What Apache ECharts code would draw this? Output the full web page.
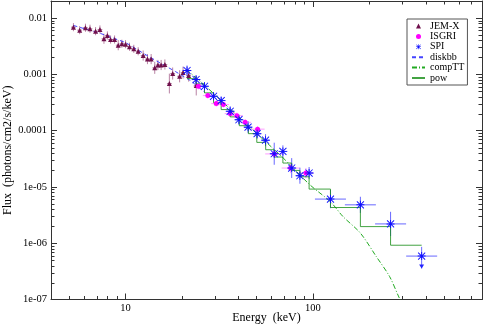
<!DOCTYPE html>
<html>
<head>
<meta charset="utf-8">
<script src="https://cdn.jsdelivr.net/npm/echarts@6/dist/echarts.min.js"></script>
<style>
  html, body { margin: 0; padding: 0; background: #fff; }
  #chart { width: 485px; height: 327px; }
</style>
</head>
<body>
<div id="chart"></div>
<script>
// JEM-X 数据点 (keV, photons/cm2/s/keV)，误差为乘法因子
const jemxE = [5.27, 5.69, 6.11, 6.46, 6.92, 7.30, 7.67, 8.00, 8.32, 8.74, 9.14, 9.56, 10.0, 10.5, 11.07, 11.68, 12.42, 13.09, 13.70, 14.32, 14.89, 15.49, 16.22, 17.14, 17.85, 19.44, 20.28, 21.72, 23.85];
const jemxF = [0.00686, 0.00607, 0.00670, 0.00643, 0.00582, 0.00624, 0.00427, 0.00489, 0.00414, 0.00414, 0.00328, 0.00348, 0.00342, 0.00308, 0.00283, 0.00256, 0.00215, 0.00186, 0.00186, 0.00130, 0.00146, 0.00146, 0.00149, 0.000684, 0.00103, 0.000920, 0.00107, 0.000948, 0.000630];
const jemxErr = [1.18, 1.18, 1.18, 1.18, 1.18, 1.18, 1.23, 1.18, 1.18, 1.18, 1.23, 1.18, 1.18, 1.18, 1.18, 1.18, 1.23, 1.23, 1.23, 1.28, 1.23, 1.23, 1.23, 1.5, 1.28, 1.28, 1.28, 1.28, 1.5];
const jemxBin = 1.03;

// ISGRI
const isgriE = [24.5, 27.5, 30.5, 33.3, 36.2, 39.3, 43.5, 50.7, 62.2, 76.1, 91.8];
const isgriF = [6.11e-4, 4.18e-4, 3.01e-4, 2.89e-4, 2.00e-4, 1.84e-4, 1.40e-4, 1.06e-4, 3.85e-5, 2.16e-5, 1.76e-5];
const isgriBin = [1.063, 1.063, 1.063, 1.07, 1.07, 1.076, 1.076, 1.09, 1.117, 1.117, 1.10];
const isgriErr = [1.13, 1.13, 1.13, 1.13, 1.13, 1.13, 1.13, 1.13, 1.18, 1.23, 1.23];

// SPI
const spiE = [21.3, 23.8, 26.4, 29.5, 32.4, 36.2, 40.3, 45.1, 50.4, 55.9, 62.2, 69.2, 77.1, 85.3, 95.5, 124.2, 179.4, 260];
const spiF = [1.164e-3, 8.05e-4, 6.11e-4, 4.06e-4, 3.40e-4, 2.20e-4, 1.56e-4, 1.15e-4, 8.81e-5, 6.75e-5, 3.88e-5, 4.27e-5, 2.16e-5, 1.58e-5, 1.76e-5, 6.07e-6, 4.8e-6, 2.2e-6];
const spiBin = [1.057, 1.057, 1.057, 1.057, 1.057, 1.057, 1.057, 1.057, 1.057, 1.057, 1.057, 1.057, 1.057, 1.057, 1.06, 1.21, 1.21, 1.21];
const spiErr = [1.23, 1.18, 1.18, 1.18, 1.18, 1.23, 1.23, 1.28, 1.23, 1.28, 1.57, 1.28, 1.5, 1.39, 1.28, 1.45, 1.39, 1.64];
// SPI 上限点
const spiLimitE = [381];
const spiLimitF = [5.9e-7];

// 模型曲线
const diskbbE = [5.27, 7.36, 10, 13.58, 18.45, 22.2, 26.6];
const diskbbF = [7.36e-3, 5.3e-3, 3.66e-3, 1.98e-3, 1.12e-3, 7.73e-4, 4.72e-4];
const compTTE = [21.1, 25.6, 36.2, 46.2, 69.5, 96.4, 124.2, 144.9, 179.4, 218.2, 257, 290, 310];
const compTTF = [1.21e-3, 7.03e-4, 2.42e-4, 1.14e-4, 3.25e-5, 1.09e-5, 5.43e-6, 2.97e-6, 1.51e-6, 5.78e-7, 2.55e-7, 1.05e-7, 7e-8];
const powE = [21.3, 23.8, 26.4, 29.5, 32.4, 36.2, 40.5, 45.3, 50.2, 56.0, 62.2, 69.2, 77.1, 85.3, 95.5, 124.2, 179.4, 260, 381];
const powF = [8.37e-4, 6.75e-4, 4.67e-4, 3.13e-4, 2.36e-4, 1.75e-4, 1.22e-4, 8.81e-5, 6.17e-5, 4.57e-5, 3.39e-5, 2.65e-5, 1.96e-5, 1.51e-5, 9.14e-6, 4.3e-6, 1.97e-6, 9.2e-7, 9.2e-7];

// 坐标轴
const xMin = 4, xMax = 800;
const yMin = 1e-7, yMax = 0.02;
const xLabels = ['10', '100'];
const yLabels = ['1e-07', '1e-06', '1e-05', '0.0001', '0.001', '0.01'];
const mantissas = [2, 3, 4, 5, 6, 7, 8, 9];

const FONT = 'Liberation Serif';
const FRAME = '#333';

const minorX = [];
[1, 10, 100].forEach(d => mantissas.forEach(m => { const v = m * d; if (v > xMin && v < xMax) minorX.push(v); }));
const minorY = [];
[1e-7, 1e-6, 1e-5, 1e-4, 1e-3].forEach(d => mantissas.forEach(m => { const v = m * d; if (v < yMax) minorY.push(v); }));

function decade(v) {
  const e = Math.log10(v);
  return Math.abs(e - Math.round(e)) < 1e-6 ? Math.round(e) : null;
}

function errorSeries(E, F, bin, err, color) {
  return {
    type: 'custom',
    z: 2,
    silent: true,
    data: E.map((e, i) => [e, F[i], Array.isArray(bin) ? bin[i] : bin, err[i]]),
    encode: { x: 0, y: 1 },
    renderItem: (params, api) => {
      const e = api.value(0), f = api.value(1), be = api.value(2), fe = api.value(3);
      const l = api.coord([e / be, f]), r = api.coord([e * be, f]);
      const t = api.coord([e, f * fe]), b = api.coord([e, f / fe]);
      const st = { stroke: color, lineWidth: 1 };
      return {
        type: 'group',
        children: [
          { type: 'line', shape: { x1: l[0], y1: l[1], x2: r[0], y2: r[1] }, style: st },
          { type: 'line', shape: { x1: t[0], y1: t[1], x2: b[0], y2: b[1] }, style: st }
        ]
      };
    }
  };
}

const asterisk = 'path://M0,4.4H10V5.6H0Z M4.4,0H5.6V10H4.4Z M1,0.2L9.8,9L9,9.8L0.2,1Z M9,0.2L9.8,1L1,9.8L0.2,9Z';
// 图例用：三角形居中，两侧空白
const legendTriangle = 'path://M4,5L6.5,0L9,5Z M0,5L0,5 M13,5L13,5';
const legendCircle = 'path://M4,2.5A2.5,2.5,0,1,1,9,2.5A2.5,2.5,0,1,1,4,2.5Z M0,2.5L0,2.5 M13,2.5L13,2.5';

const chart = echarts.init(document.getElementById('chart'));

const axisCommon = {
  type: 'log',
  axisLine: { onZero: false, lineStyle: { color: FRAME, width: 1 } },
  axisTick: { inside: true, length: 6, lineStyle: { color: FRAME, width: 1 } },
  splitLine: { show: false }
};

const option = {
  animation: false,
  grid: { left: 51, right: 3, top: 1, bottom: 27.5, containLabel: false, outerBoundsMode: 'none' },
  legend: {
    orient: 'vertical',
    left: 407,
    top: 19,
    itemWidth: 13,
    itemHeight: 5,
    itemGap: 0.4,
    padding: [2, 3, 2, 4],
    borderColor: '#555',
    borderWidth: 1,
    backgroundColor: '#fff',
    selectedMode: false,
    textStyle: { fontFamily: FONT, fontSize: 10, color: '#000' },
    data: [
      { name: 'JEM-X', icon: legendTriangle },
      { name: 'ISGRI', icon: legendCircle },
      { name: 'SPI', icon: asterisk },
      'diskbb', 'compTT', 'pow'
    ]
  },
  xAxis: [
    Object.assign({}, axisCommon, {
      min: xMin, max: xMax, position: 'bottom',
      axisLabel: {
        margin: 3, color: '#000', fontFamily: FONT, fontSize: 10.5,
        formatter: v => { const d = decade(v); return d === null ? '' : (xLabels[d - 1] || ''); }
      },
      name: 'Energy  (keV)', nameLocation: 'middle', nameGap: 12, nameMoveOverlap: false,
      nameTextStyle: { fontFamily: FONT, fontSize: 12, color: '#000' }
    }),
    Object.assign({}, axisCommon, { min: xMin, max: xMax, position: 'top', axisLabel: { show: false } })
  ],
  yAxis: [
    Object.assign({}, axisCommon, {
      min: yMin, max: yMax, position: 'left',
      axisLabel: {
        margin: 4, color: '#000', fontFamily: FONT, fontSize: 10.5,
        formatter: v => { const d = decade(v); return d === null ? '' : (yLabels[d + 7] || ''); }
      },
      name: 'Flux  (photons/cm2/s/keV)', nameLocation: 'middle', nameGap: 37, nameMoveOverlap: false,
      nameTextStyle: { fontFamily: FONT, fontSize: 12, color: '#000' }
    }),
    Object.assign({}, axisCommon, { min: yMin, max: yMax, position: 'right', axisLabel: { show: false } })
  ],
  series: [
    // 次刻度
    {
      type: 'custom',
      silent: true,
      z: 1,
      data: minorX.map(v => [v, 1e-3, 0]).concat(minorY.map(v => [10, v, 1])),
      encode: { x: 0, y: 1 },
      renderItem: (params, api) => {
        const cs = params.coordSys;
        const p = api.coord([api.value(0), api.value(1)]);
        const st = { stroke: FRAME, lineWidth: 1 };
        if (api.value(2) === 0) {
          const x = Math.round(p[0]) + 0.5;
          return { type: 'group', children: [
            { type: 'line', shape: { x1: x, y1: cs.y + cs.height, x2: x, y2: cs.y + cs.height - 3.5 }, style: st },
            { type: 'line', shape: { x1: x, y1: cs.y, x2: x, y2: cs.y + 3.5 }, style: st }
          ] };
        }
        const y = Math.round(p[1]) + 0.5;
        return { type: 'group', children: [
          { type: 'line', shape: { x1: cs.x, y1: y, x2: cs.x + 3.5, y2: y }, style: st },
          { type: 'line', shape: { x1: cs.x + cs.width, y1: y, x2: cs.x + cs.width - 3.5, y2: y }, style: st }
        ] };
      }
    },
    errorSeries(jemxE, jemxF, jemxBin, jemxErr, 'rgba(128,30,90,0.55)'),
    errorSeries(isgriE, isgriF, isgriBin, isgriErr, 'rgba(255,60,255,0.5)'),
    errorSeries(spiE, spiF, spiBin, spiErr, 'rgba(40,40,255,0.7)'),
    // SPI 上限箭头
    {
      type: 'custom',
      silent: true,
      z: 2,
      data: spiLimitE.map((e, i) => [e, spiLimitF[i]]),
      encode: { x: 0, y: 1 },
      renderItem: (params, api) => {
        const e = api.value(0), f = api.value(1);
        const l = api.coord([e / 1.21, f]), r = api.coord([e * 1.21, f]);
        const t = api.coord([e, f * 1.46]), b = api.coord([e, f / 1.66]);
        const st = { stroke: 'rgba(40,40,255,0.7)', lineWidth: 1 };
        return { type: 'group', children: [
          { type: 'line', shape: { x1: l[0], y1: l[1], x2: r[0], y2: r[1] }, style: st },
          { type: 'line', shape: { x1: t[0], y1: t[1], x2: b[0], y2: b[1] }, style: st },
          { type: 'polygon', shape: { points: [[b[0] - 2.5, b[1] - 4], [b[0] + 2.5, b[1] - 4], [b[0], b[1]]] }, style: { fill: '#2222ff' } }
        ] };
      }
    },
    {
      name: 'diskbb', type: 'line', z: 3, symbol: 'none', silent: true,
      data: diskbbE.map((e, i) => [e, diskbbF[i]]),
      lineStyle: { color: '#4444ff', width: 1, type: [4, 3] },
      itemStyle: { color: '#4444ff', opacity: 0 }
    },
    {
      name: 'compTT', type: 'line', z: 3, symbol: 'none', silent: true, smooth: 0.3,
      data: compTTE.map((e, i) => [e, compTTF[i]]),
      lineStyle: { color: '#22aa22', width: 1, type: [5, 2, 1, 2] },
      itemStyle: { color: '#22aa22', opacity: 0 }
    },
    {
      name: 'pow', type: 'line', z: 3, symbol: 'none', silent: true, step: 'end',
      data: powE.map((e, i) => [e, powF[i]]),
      lineStyle: { color: 'rgba(20,140,20,0.8)', width: 1 },
      itemStyle: { color: 'rgba(20,140,20,0.8)', opacity: 0 }
    },
    {
      name: 'JEM-X', type: 'scatter', z: 4, symbol: 'triangle', symbolSize: 5, silent: true,
      data: jemxE.map((e, i) => [e, jemxF[i]]),
      itemStyle: { color: '#70104c', opacity: 1 }
    },
    {
      name: 'ISGRI', type: 'scatter', z: 4, symbol: 'circle', symbolSize: 5, silent: true,
      data: isgriE.map((e, i) => [e, isgriF[i]]),
      itemStyle: { color: '#ff00ff', opacity: 1 }
    },
    {
      name: 'SPI', type: 'scatter', z: 5, symbol: asterisk, symbolSize: 8, silent: true,
      data: spiE.map((e, i) => [e, spiF[i]]).concat(spiLimitE.map((e, i) => [e, spiLimitF[i]])),
      itemStyle: { color: '#1010ff', opacity: 1 }
    }
  ]
};

chart.setOption(option);
</script>
</body>
</html>
